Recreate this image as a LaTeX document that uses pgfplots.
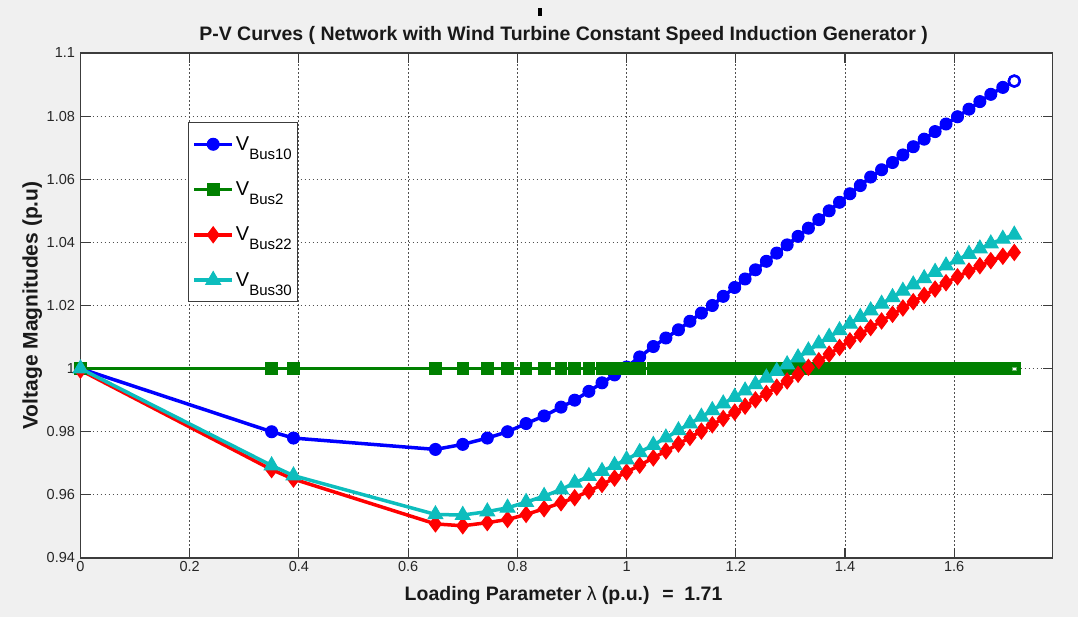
\documentclass[border=0pt]{standalone}
\usepackage{fontspec}
\setmainfont{Liberation Sans}
\usepackage{pgfplots}
\pgfplotsset{compat=1.18}
\usepackage{pgfplotstable}

\definecolor{figbg}{HTML}{F0F0F0}
\definecolor{axgray}{HTML}{3C3C3C}
\definecolor{gridgray}{HTML}{505050}
\definecolor{mblue}{rgb}{0,0,1}
\definecolor{mgreen}{rgb}{0,0.5,0}
\definecolor{mred}{rgb}{1,0,0}
\definecolor{mcyan}{rgb}{0.05,0.74,0.74}

% continuation power flow: loading parameter and bus voltages (p.u.)
\pgfplotstableread{
x     b10    b2 b22    b30
0     1.0000 1  0.9995 1.0000
0.35  0.9800 1  0.9680 0.9693
0.39  0.9780 1  0.9650 0.9661
0.65  0.9744 1  0.9508 0.9538
0.70  0.9760 1  0.9502 0.9536
0.745 0.9780 1  0.9512 0.9547
0.782 0.9800 1  0.9522 0.9559
0.816 0.9826 1  0.9538 0.9577
0.849 0.9850 1  0.9556 0.9596
0.880 0.9878 1  0.9575 0.9617
0.905 0.9900 1  0.9591 0.9638
0.931 0.9928 1  0.9612 0.9659
0.955 0.9955 1  0.9633 0.9675
0.978 0.9980 1  0.9653 0.9694
1.000 1.0005 1  0.9672 0.9712
1.024 1.0037 1  0.9694 0.9735
1.049 1.0070 1  0.9717 0.9758
1.072 1.0097 1  0.9739 0.9781
1.095 1.0123 1  0.9761 0.9804
1.116 1.0150 1  0.9782 0.9826
1.137 1.0176 1  0.9802 0.9847
1.157 1.0200 1  0.9822 0.9868
1.177 1.0229 1  0.9842 0.9889
1.198 1.0257 1  0.9862 0.9910
1.217 1.0284 1  0.9881 0.9930
1.236 1.0313 1  0.9901 0.9950
1.256 1.0340 1  0.9921 0.9971
1.275 1.0366 1  0.9941 0.9992
1.294 1.0392 1  0.9961 1.0013
1.314 1.0419 1  0.9982 1.0035
1.333 1.0445 1  1.0004 1.0057
1.352 1.0472 1  1.0025 1.0079
1.371 1.0500 1  1.0046 1.0100
1.390 1.0527 1  1.0067 1.0121
1.409 1.0554 1  1.0088 1.0142
1.428 1.0580 1  1.0109 1.0163
1.447 1.0607 1  1.0130 1.0184
1.467 1.0630 1  1.0151 1.0205
1.487 1.0653 1  1.0172 1.0226
1.506 1.0677 1  1.0192 1.0246
1.525 1.0703 1  1.0212 1.0266
1.545 1.0727 1  1.0232 1.0286
1.565 1.0751 1  1.0252 1.0306
1.585 1.0775 1  1.0272 1.0326
1.606 1.0798 1  1.0291 1.0345
1.627 1.0822 1  1.0309 1.0363
1.647 1.0846 1  1.0326 1.0380
1.667 1.0869 1  1.0342 1.0396
1.689 1.0891 1  1.0356 1.0411
1.710 1.0911 1  1.0368 1.0424
}\pvdata

\newcommand{\bus}[1]{V\raisebox{-0.45em}{\fontsize{15}{15}\selectfont Bus#1}}

\begin{document}
\begin{tikzpicture}
\path[use as bounding box, fill=figbg] (0pt,0pt) rectangle (1078pt,617pt);
\fill[black] (538pt,601pt) rectangle (542pt,609pt);
\begin{axis}[
  at={(80.5pt,59pt)}, anchor=south west,
  width=972pt, height=505pt, scale only axis,
  xmin=0, xmax=1.78, ymin=0.94, ymax=1.1,
  clip=false,
  axis background/.style={fill=white},
  axis line style={axgray, line width=1.1pt},
  tick style={axgray, line width=1.1pt},
  major tick length=10pt,
  tick align=inside, tick pos=both,
  xtick={0,0.2,0.4,0.6,0.8,1,1.2,1.4,1.6},
  xticklabels={0,0.2,0.4,0.6,0.8,1,1.2,1.4,1.6},
  ytick={0.94,0.96,0.98,1,1.02,1.04,1.06,1.08,1.1},
  yticklabels={0.94,0.96,0.98,1,1.02,1.04,1.06,1.08,1.1},
  tick label style={font=\fontsize{14.5}{15}\selectfont, color=black!85},
  yticklabel style={xshift=-2pt},
  grid=major,
  major grid style={gridgray, line width=1pt, dash pattern=on 1.5pt off 2.5pt},
  every axis title shift=0pt,
  title={P-V Curves ( Network with Wind Turbine Constant Speed Induction Generator )},
  title style={font=\fontsize{19.5}{20}\selectfont\bfseries, at={(axis description cs:0.497,1.025)}, anchor=base, color=black!90},
  xlabel={Loading Parameter {\mdseries λ} (p.u.) \ = \ 1.71},
  xlabel style={font=\fontsize{19.5}{20}\selectfont\bfseries, at={(axis description cs:0.497,-0.0851)}, anchor=base, color=black!90},
  ylabel={Voltage Magnitudes (p.u)},
  ylabel style={font=\fontsize{21}{22}\selectfont\bfseries, at={(axis description cs:-0.0442,0.5)}, anchor=base, color=black!90},
  legend style={at={(axis description cs:0.1106,0.863)}, anchor=north west,
    draw=axgray, line width=0.9pt, fill=white,
    font=\fontsize{20}{20}\selectfont, inner xsep=4pt, inner ysep=12pt,
    row sep=26pt, cells={anchor=west}},
  legend image code/.code={\draw[mark repeat=2, mark phase=2] plot coordinates {(0pt,0pt) (19pt,0pt) (38pt,0pt)};},
]
\addplot[mblue, line width=3.5pt, mark=*, mark size=6pt,
  mark options={solid, fill=mblue, draw=mblue, line width=1pt}]
  table[x=x, y=b10]{\pvdata};
\addlegendentry{\bus{10}}
\addplot[forget plot, only marks, mark=*, mark size=5.5pt,
  mark options={draw=mblue, fill=white, line width=2.5pt},
  skip coords between index={0}{49}]
  table[x=x, y=b10]{\pvdata};

\addplot[mgreen, line width=3.5pt, mark=square*, mark size=5.8pt,
  mark options={solid, fill=mgreen, draw=mgreen, line width=0.8pt}]
  table[x=x, y=b2]{\pvdata};
\addlegendentry{\bus{2}}
\addplot[forget plot, only marks, mark=square*, mark size=1.8pt,
  mark options={draw=mgreen!60!white, fill=white, line width=0.6pt},
  skip coords between index={0}{49}]
  table[x=x, y=b2]{\pvdata};

\addplot[mred, line width=3.5pt, mark=diamond*, mark size=8pt,
  mark options={solid, fill=mred, draw=mred, line width=1pt}]
  table[x=x, y=b22]{\pvdata};
\addlegendentry{\bus{22}}

\addplot[mcyan, line width=3.5pt, mark=triangle*, mark size=8.5pt,
  mark options={solid, fill=mcyan, draw=mcyan, line width=1pt}]
  table[x=x, y=b30]{\pvdata};
\addlegendentry{\bus{30}}
\end{axis}
\end{tikzpicture}
\end{document}
